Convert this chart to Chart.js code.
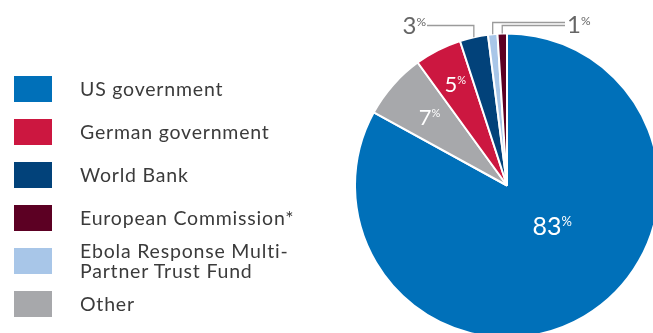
<!DOCTYPE html>
<html>
<head>
<meta charset="utf-8">
<script src="https://cdn.jsdelivr.net/npm/chart.js@4.4.1/dist/chart.umd.min.js"></script>
<style>
html, body { margin: 0; padding: 0; background: #fff; }
#wrap { position: relative; width: 653px; height: 333px; overflow: hidden; }
#pie { position: absolute; left: 0; top: 0; }
#legend { position: absolute; left: 14px; top: 76px; font-family: Lato, sans-serif; font-size: 19.5px; letter-spacing: 0.8px; color: #3b3b3b; }
.row { display: flex; align-items: center; height: 26px; margin-bottom: 17px; }
.sw { width: 38px; height: 26px; margin-right: 28px; flex: none; }
.txt { line-height: 20px; white-space: pre-line; }
</style>
</head>
<body>
<div id="wrap">
  <canvas id="pie" width="653" height="333"></canvas>
  <div id="legend"></div>
</div>
<script>
// funding sources, legend order
const sources = ['US government', 'German government', 'World Bank', 'European Commission*', 'Ebola Response Multi-\nPartner Trust Fund', 'Other']
const shares = [83, 5, 3, 1, 1, 7]
const colours = ['#0070b9', '#cc1740', '#02427a', '#5c0023', '#a8c6e8', '#a7a8ab']
// order of the slices, clockwise from 12 o'clock
const pieOrder = [0, 5, 1, 2, 4, 3]

// how each slice gets its percentage label (legend order)
const labelStyle = [
  {inside: true, r: 0.40, turn: -17.5, size: 25},
  {inside: true, r: 0.75, turn: 0, size: 22},
  {rise: 8, reach: -80, size: 24},
  {rise: 8, reach: 58, size: 24, noText: true},
  {rise: 11, reach: 58, size: 24, dy: 2},
  {inside: true, r: 0.68, turn: 0, size: 22}
]

// legend
const legendBox = document.getElementById('legend')
sources.forEach((name, i) => {
  let row = document.createElement('div')
  row.className = 'row'
  let sw = document.createElement('div')
  sw.className = 'sw'
  sw.style.background = colours[i]
  let txt = document.createElement('div')
  txt.className = 'txt'
  txt.textContent = name
  row.appendChild(sw)
  row.appendChild(txt)
  legendBox.appendChild(row)
})

function drawPct(ctx, value, x, y, size, align, colour) {
  const big = size + 'px Lato'
  const ss = Math.round(size * 0.5)
  const small = ss + 'px Lato'
  ctx.font = big
  const w1 = ctx.measureText(String(value)).width
  ctx.font = small
  const w2 = ctx.measureText('%').width
  let left = align === 'center' ? x - (w1 + w2) / 2 : align === 'right' ? x - w1 - w2 : x
  const base = y + size * 0.36
  ctx.fillStyle = colour
  ctx.textAlign = 'left'
  ctx.textBaseline = 'alphabetic'
  ctx.font = big
  ctx.fillText(String(value), left, base)
  ctx.font = small
  ctx.fillText('%', left + w1, base - size * 0.72 + ss * 0.72)
}

const pctLabels = {
  id: 'pctLabels',
  afterDatasetsDraw(chart) {
    const ctx = chart.ctx
    const meta = chart.getDatasetMeta(0)
    ctx.save()
    meta.data.forEach((arc, k) => {
      const src = pieOrder[k]
      const st = labelStyle[src]
      const {x, y, startAngle, endAngle, outerRadius} = arc.getProps(['x', 'y', 'startAngle', 'endAngle', 'outerRadius'], true)
      const mid = (startAngle + endAngle) / 2
      if (st.inside) {
        const a = mid + st.turn * Math.PI / 180
        const d = outerRadius * st.r
        drawPct(ctx, shares[src], x + d * Math.cos(a), y + d * Math.sin(a), st.size, 'center', '#ffffff')
      } else {
        const ex = x + outerRadius * Math.cos(mid)
        const ey = y + outerRadius * Math.sin(mid)
        const ly = y - outerRadius - st.rise
        const lx = x + st.reach
        ctx.strokeStyle = '#9b9b9b'
        ctx.lineWidth = 1.3
        ctx.beginPath()
        ctx.moveTo(ex, ey)
        ctx.lineTo(ex, ly)
        ctx.lineTo(lx, ly)
        ctx.stroke()
        if (!st.noText) {
          drawPct(ctx, shares[src], st.reach < 0 ? lx - 1 : lx + 2, ly + (st.dy || 0), st.size, st.reach < 0 ? 'right' : 'left', '#666666')
        }
      }
    })
    ctx.restore()
  }
}

let pieChart = new Chart(document.getElementById('pie'), {
  type: 'pie',
  data: {
    labels: pieOrder.map(i => sources[i]),
    datasets: [{
      data: pieOrder.map(i => shares[i]),
      backgroundColor: pieOrder.map(i => colours[i]),
      borderColor: '#ffffff',
      borderWidth: 2,
      hoverOffset: 0,
      radius: 152,
      clip: false
    }]
  },
  options: {
    responsive: false,
    animation: false,
    layout: {padding: {left: 380, right: 19, top: 40, bottom: 2}},
    plugins: {legend: {display: false}, tooltip: {enabled: false}}
  },
  plugins: [pctLabels]
})
</script>
</body>
</html>
